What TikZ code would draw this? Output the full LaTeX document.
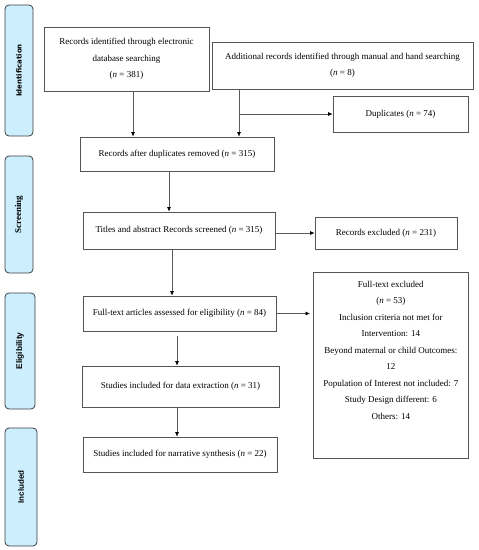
\documentclass[tikz,border=0pt]{standalone}
\usepackage{fontspec}
\setmainfont{Liberation Serif}
\newfontfamily\identfont{DejaVu Sans}
\newfontfamily\arialfont{Liberation Sans}
\usetikzlibrary{arrows.meta}
\definecolor{tabfill}{RGB}{204,238,253}
\definecolor{tabline}{RGB}{60,60,60}
\definecolor{boxline}{RGB}{85,85,85}
\definecolor{arrline}{RGB}{90,90,90}
\begin{document}
\begin{tikzpicture}[x=1pt,y=-1pt,
  tab/.style={draw=tabline, fill=tabfill, rounded corners=4pt, line width=0.8pt, inner sep=0pt, rotate=90},
  box/.style={draw=boxline, line width=0.7pt, align=center, inner sep=0pt, font=\fontsize{9}{16.5}\selectfont},
  arr/.style={draw=arrline, line width=0.7pt, -{Latex[length=4.5pt,width=4pt,color=black]}}
]
\useasboundingbox (0,0) rectangle (479,550);
% phase tabs
\node[tab, minimum width=131pt, minimum height=28pt, font=\identfont\bfseries\fontsize{7}{8}\selectfont] (tabid) at (19,70.5) {Identification};
\node[tab, minimum width=117pt, minimum height=28pt, font=\bfseries\fontsize{9}{10}\selectfont] (tabsc) at (19,214.5) {Screening};
\node[tab, minimum width=116pt, minimum height=30pt, font=\arialfont\bfseries\fontsize{8.3}{9}\selectfont] (tabel) at (20,351) {Eligibility};
\node[tab, minimum width=118pt, minimum height=32pt, font=\arialfont\bfseries\fontsize{8}{9}\selectfont] (tabin) at (21,487) {Included};
% boxes
\node[box, minimum width=165pt, minimum height=64pt] (rid) at (126.5,59) {Records identified through electronic\\ database searching\\ (\textit{n} = 381)};
\node[box, minimum width=261pt, minimum height=47pt] (add) at (342.5,65.5) {Additional records identified through manual and hand searching\\ (\textit{n} = 8)};
\node[box, minimum width=135pt, minimum height=36pt] (dup) at (400.5,114) {Duplicates (\textit{n} = 74)};
\node[box, minimum width=194pt, minimum height=34pt] (rad) at (177,154) {Records after duplicates removed (\textit{n} = 315)};
\node[box, minimum width=192pt, minimum height=37pt] (tas) at (179,230.5) {Titles and abstract Records screened (\textit{n} = 315)};
\node[box, minimum width=142pt, minimum height=32pt] (rex) at (386,233) {Records excluded (\textit{n} = 231)};
\node[box, anchor=north west] (fte) at (313,272) {\parbox[c][186pt][t]{155pt}{\centering\rule{0pt}{15pt}Full-text excluded\\
(\textit{n} = 53)\\
Inclusion criteria not met for\\
Intervention: 14\\
Beyond maternal or child Outcomes:\\
12\\
Population of Interest not included: 7\\
Study Design different: 6\\
Others: 14}};
\node[box, minimum width=193pt, minimum height=35pt] (fta) at (179.5,313.5) {Full-text articles assessed for eligibility (\textit{n} = 84)};
\node[box, minimum width=197pt, minimum height=41pt] (sde) at (180.5,386.5) {Studies included for data extraction (\textit{n} = 31)};
\node[box, minimum width=194pt, minimum height=35pt] (sns) at (180,454.5) {Studies included for narrative synthesis (\textit{n} = 22)};
% helper coordinates
\coordinate (xa) at (133,0);
\coordinate (xb) at (239,0);
\coordinate (xc) at (169,0);
\coordinate (xd) at (172,0);
\coordinate (xe) at (177,0);
% connectors
\draw[arr] (rid.south -| xa) -- (rad.north -| xa);
\draw[arr] (add.south -| xb) -- (rad.north -| xb);
\draw[arr] (xb |- dup.west) -- (dup.west);
\draw[arr] (rad.south -| xc) -- (tas.north -| xc);
\draw[arr] (tas.east |- rex.west) -- (rex.west);
\draw[arr] (tas.south -| xd) -- (fta.north -| xd);
\draw[arr, shorten >=3pt] (fta.east) -- (fta.east -| fte.west);
\draw[arr, shorten <=5pt] (fta.south -| xe) -- (sde.north -| xe);
\draw[arr] (sde.south -| xe) -- (sns.north -| xe);
\end{tikzpicture}
\end{document}
